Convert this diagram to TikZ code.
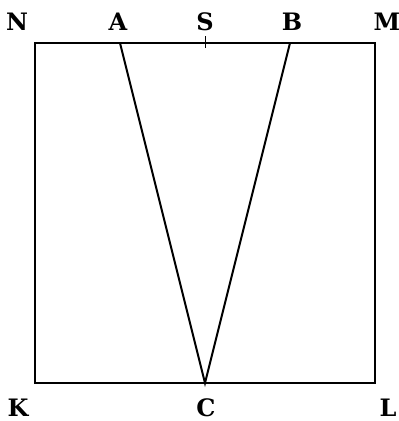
\documentclass[tikz,border=0pt]{standalone}
\usepackage{fontspec}
\setmainfont{DejaVu Serif}
\newcommand\mylabfont{\fontsize{24}{28}\selectfont\bfseries}
\begin{document}
\begin{tikzpicture}[x=1pt,y=-1pt,
  edge/.style={line width=2pt,line join=miter},
  lab/.style={font=\mylabfont,inner sep=0pt}]
\useasboundingbox (0,0) rectangle (399,421);
\coordinate (N) at (35,43);
\coordinate (M) at (375,43);
\coordinate (L) at (375,383);
\coordinate (K) at (35,383);
\coordinate (A) at (120,43);
\coordinate (B) at (290,43);
\coordinate (S) at (205,43);
\coordinate (C) at (205,383);
\draw[edge] (N) -- (M) -- (L) -- (K) -- cycle;
\draw[edge] (A) -- (C) -- (B);
\draw[line width=0.8pt] ([yshift=-5]S) -- ([yshift=7]S);
\node[lab] (lN) at (17,22) {N};
\node[lab] (lA) at (118,22) {A};
\node[lab] (lS) at (205,22) {S};
\node[lab] (lB) at (292,22) {B};
\node[lab] (lM) at (387,22) {M};
\node[lab] (lK) at (18,408) {K};
\node[lab] (lC) at (206,408) {C};
\node[lab] (lL) at (388,408) {L};
\end{tikzpicture}
\end{document}
